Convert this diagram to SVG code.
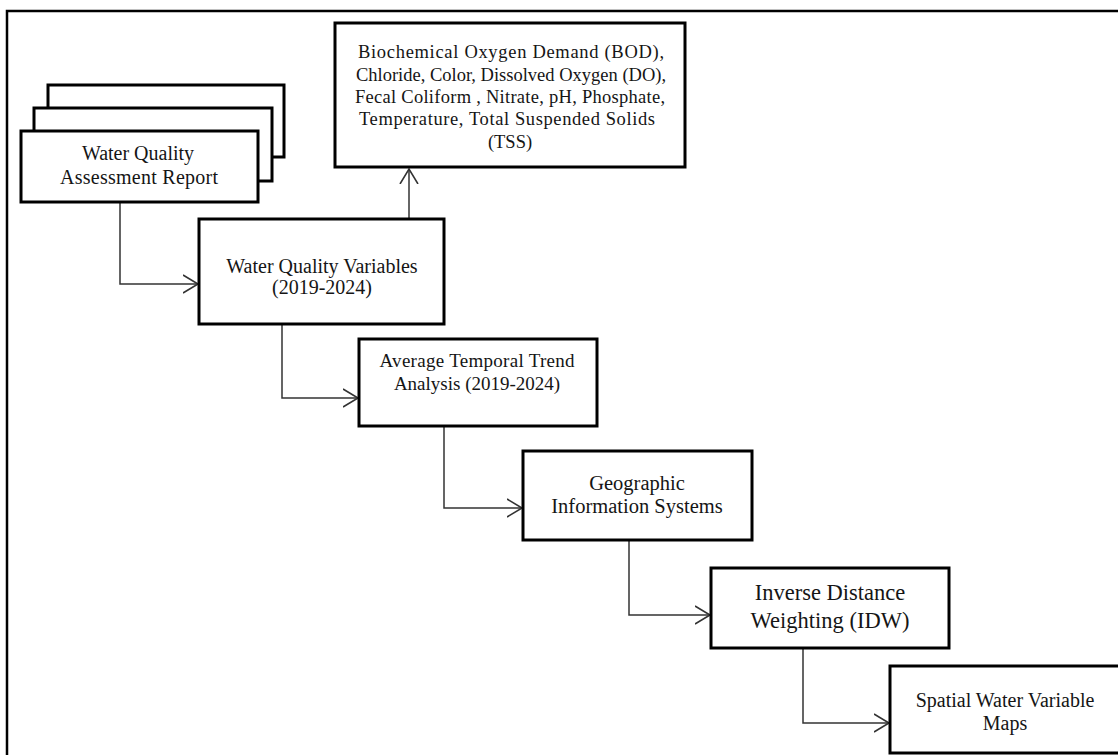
<svg xmlns="http://www.w3.org/2000/svg" width="1118" height="755" viewBox="0 0 1118 755">
<style>
.box{fill:#fff;stroke:#000;stroke-width:3}
.t{font-family:"Liberation Serif","Times New Roman",serif;fill:#151515;text-anchor:middle}
.c{fill:none;stroke:#333;stroke-width:1.5}
</style>
<defs>
<marker id="arr" markerUnits="userSpaceOnUse" markerWidth="20" markerHeight="22" refX="15" refY="10" orient="auto" viewBox="0 0 20 22">
<path d="M0,1 L15,10 L0,19" fill="none" stroke="#333" stroke-width="1.6"/>
</marker>
</defs>
<rect width="1118" height="755" fill="#fff"/>
<path d="M7,755 V11 H1118" fill="none" stroke="#000" stroke-width="2.5"/>
<g id="connectors">
<path class="c" d="M120,202 V284 H198" marker-end="url(#arr)"/>
<path class="c" d="M409,219 V169" marker-end="url(#arr)"/>
<path class="c" d="M282,324 V398 H358" marker-end="url(#arr)"/>
<path class="c" d="M444,426 V508 H522" marker-end="url(#arr)"/>
<path class="c" d="M629,540 V615 H710" marker-end="url(#arr)"/>
<path class="c" d="M803,648 V723 H889" marker-end="url(#arr)"/>
</g>
<g id="report">
<rect class="box" x="48" y="85" width="236" height="72"/>
<rect class="box" x="34" y="108" width="238" height="73"/>
<rect class="box" x="21" y="131" width="237" height="71"/>
<text class="t" x="138" y="160" font-size="20">Water Quality</text>
<text class="t" x="139" y="184" font-size="20" textLength="158" lengthAdjust="spacing">Assessment Report</text>
</g>
<g id="parameters">
<rect class="box" x="335" y="23" width="350" height="144"/>
<text class="t" x="511" y="58" font-size="18.5" textLength="306" lengthAdjust="spacing">Biochemical Oxygen Demand (BOD),</text>
<text class="t" x="511" y="81" font-size="18.5">Chloride, Color, Dissolved Oxygen (DO),</text>
<text class="t" x="510" y="103" font-size="18.5" textLength="310" lengthAdjust="spacing">Fecal Coliform , Nitrate, pH, Phosphate,</text>
<text class="t" x="507" y="125" font-size="18.5" textLength="296" lengthAdjust="spacing">Temperature, Total Suspended Solids</text>
<text class="t" x="510" y="148" font-size="18.5">(TSS)</text>
</g>
<g id="variables">
<rect class="box" x="199" y="219" width="245" height="105"/>
<text class="t" x="322" y="273" font-size="20">Water Quality Variables</text>
<text class="t" x="322" y="294" font-size="20">(2019-2024)</text>
</g>
<g id="trend">
<rect class="box" x="359" y="339" width="238" height="87"/>
<text class="t" x="477" y="367" font-size="19" textLength="195" lengthAdjust="spacing">Average Temporal Trend</text>
<text class="t" x="477" y="390" font-size="19">Analysis (2019-2024)</text>
</g>
<g id="gis">
<rect class="box" x="523" y="451" width="229" height="89"/>
<text class="t" x="637" y="490" font-size="20.5">Geographic</text>
<text class="t" x="637" y="513" font-size="20.5">Information Systems</text>
</g>
<g id="idw">
<rect class="box" x="711" y="568" width="238" height="80"/>
<text class="t" x="830" y="600" font-size="22.5">Inverse Distance</text>
<text class="t" x="830" y="628" font-size="22.5">Weighting (IDW)</text>
</g>
<g id="maps">
<rect class="box" x="890" y="666" width="240" height="87"/>
<text class="t" x="1005" y="707" font-size="20">Spatial Water Variable</text>
<text class="t" x="1005" y="730" font-size="20">Maps</text>
</g>
</svg>
